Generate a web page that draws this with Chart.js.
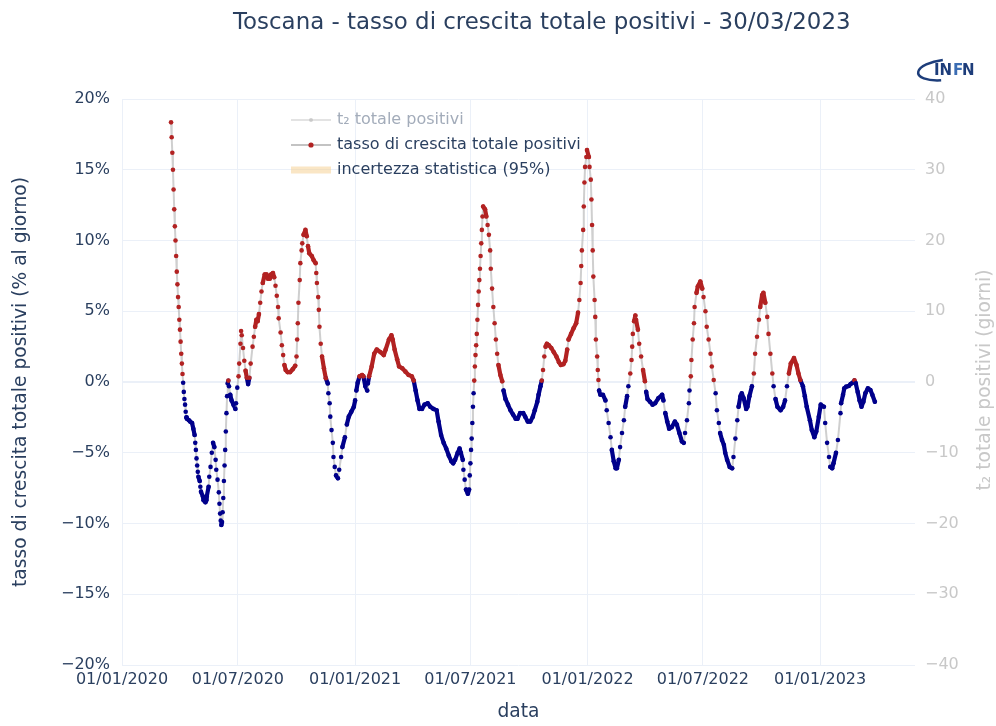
<!DOCTYPE html>
<html lang="it">
<head>
<meta charset="utf-8">
<title>Toscana - tasso di crescita totale positivi</title>
<script src="https://cdn.jsdelivr.net/npm/chart.js@4.4.1/dist/chart.umd.min.js"></script>
<style>
  html, body { margin: 0; padding: 0; background: #fff; }
  #contenitore { width: 996px; height: 726px; position: relative; }
</style>
</head>
<body>
<div id="contenitore"><canvas id="grafico"></canvas></div>
<script>
// giorni trascorsi dal 01/01/2020 e tasso di crescita (% al giorno)
const giorni = [
  77, 78, 79, 80, 81, 82, 83, 84, 85, 86, 87, 88, 89, 90, 91, 92, 93, 94, 95, 96,
  97, 98, 99, 100, 101, 102, 105, 107, 110, 112, 114, 115, 116, 117, 118, 119, 120, 122, 123, 124,
  127, 128, 131, 132, 133, 136, 137, 139, 141, 143, 145, 147, 148, 150, 152, 153, 154, 155, 156, 157,
  158, 159, 160, 161, 162, 163, 164, 165, 166, 167, 168, 170, 172, 175, 178, 179, 181, 183, 184, 186,
  187, 188, 190, 192, 194, 196, 198, 200, 202, 205, 207, 209, 211, 213, 215, 217, 219, 221, 224, 227,
  229, 232, 234, 237, 239, 241, 243, 245, 246, 249, 251, 253, 255, 257, 260, 264, 268,
  272, 274, 275, 276, 277, 279, 280, 282, 283, 285, 288, 290, 292, 294, 298, 301, 304, 305, 306, 308,
  309, 310, 312, 314, 317, 320, 323, 324, 326, 327, 329, 331, 332, 334, 336, 339, 341, 344, 346, 350,
  353, 356, 360, 364, 366, 368, 370, 373, 377, 379, 382, 385, 386, 388, 392, 396, 400, 406, 411, 414,
  419, 423, 425, 428, 432, 435, 440, 445, 450, 455, 458, 461, 464, 467, 471, 475, 480, 484, 489,
  494, 497, 501, 505, 509, 513, 517, 520, 523, 527, 530, 532, 535, 536, 538, 540, 543, 545, 546, 547,
  548, 549, 550, 551, 552, 553, 554, 555, 556, 557, 558, 559, 560, 561, 562, 563, 564, 565, 566, 567,
  570, 572, 574, 576, 578, 579, 581, 583, 585, 587, 589, 591, 594, 597, 599, 602, 606, 610, 614, 618,
  621, 625, 630, 633, 637, 641, 645, 648, 652, 654, 657, 659, 661, 663, 665, 667, 670, 674, 678, 682,
  686, 689, 693,
  696, 699, 701, 705, 709, 713, 716, 718, 720, 721, 722, 724, 725, 726, 727, 729, 730, 733, 734, 736,
  737, 738, 739, 740, 742, 743, 744, 746, 747, 748, 749, 751, 755, 759, 761, 764, 767, 769, 772, 775,
  777, 780, 782, 785, 788, 790, 793, 795, 798, 800, 801, 802, 804, 806, 807, 810, 812, 815, 818, 821,
  823, 825, 829, 833, 837, 842, 848, 850, 853, 856, 859, 863, 868, 871, 875, 879, 882, 884, 887, 890,
  891, 893, 894, 896, 898, 899, 902, 904, 908, 911, 913,
  916, 918, 921, 924, 926, 929, 932, 934, 937, 939, 942, 945, 947, 950, 954, 958, 960, 963, 966, 968,
  971, 973, 976, 980, 982, 985, 989, 992, 994, 997, 1000, 1002, 1005, 1007, 1010, 1013, 1015, 1018, 1021, 1023,
  1026, 1029, 1034, 1038, 1041, 1044, 1047, 1050, 1055, 1059, 1062, 1065, 1069, 1072, 1075, 1080, 1083, 1087, 1090, 1094,
  1097, 1102, 1104, 1107, 1110, 1112, 1115, 1117, 1121, 1124,
  1128, 1129, 1132, 1134, 1137, 1141, 1144, 1147, 1150, 1152, 1155, 1158, 1161, 1164, 1167, 1171, 1175, 1178, 1182
];
const tasso = [
  18.35, 17.3, 16.2, 15.0, 13.6, 12.2, 11.0, 10.0, 8.9, 7.8, 6.9, 6.0, 5.3, 4.4, 3.7, 2.85, 2.0, 1.3, 0.57, -0.05,
  -0.7, -1.2, -1.6, -2.1, -2.5, -2.6, -2.7, -2.8, -2.9, -3.3, -3.75, -4.3, -4.8, -5.4, -5.9, -6.35, -6.7, -7.0, -7.4, -7.75,
  -8.1, -8.35, -8.5, -8.35, -8.1, -7.4, -6.7, -6.0, -5.0, -4.3, -4.6, -5.5, -6.2, -6.9, -7.8, -8.6, -9.3, -9.8, -10.1, -9.9,
  -9.2, -8.2, -7.0, -5.9, -4.8, -3.5, -2.2, -1.0, -0.1, 0.1, -0.3, -0.9, -1.3, -1.6, -1.9, -1.5, -0.4, 0.4, 1.3, 2.7,
  3.6, 3.3, 2.4, 1.5, 0.8, 0.3, -0.15, 0.3, 1.3, 2.5, 3.2, 3.9, 4.4, 4.3, 4.8, 5.6, 6.4, 7.0, 7.6, 7.6,
  7.3, 7.3, 7.6, 7.7, 7.4, 6.8, 6.1, 5.3, 4.5, 3.5, 2.6, 1.9, 1.2, 0.85, 0.7, 0.7, 0.9,
  1.15, 1.8, 3.0, 4.15, 5.6, 7.2, 8.4, 9.3, 9.8, 10.4, 10.75, 10.3, 9.6, 9.1, 8.9, 8.6, 8.4, 7.7, 7.0, 6.0,
  5.1, 3.9, 2.7, 1.8, 0.97, 0.26, -0.1, -0.8, -1.5, -2.45, -3.4, -4.3, -5.3, -6.0, -6.6, -6.8, -6.2, -5.3, -4.6, -3.9,
  -3.0, -2.45, -2.1, -1.75, -1.3, -0.6, -0.05, 0.4, 0.5, 0.4, -0.3, -0.6, -0.1, 0.4, 1.1, 2.0, 2.3, 2.1, 1.9, 2.3,
  3.0, 3.3, 3.0, 2.3, 1.6, 1.1, 0.97, 0.73, 0.5, 0.4, 0.1, -0.6, -1.3, -1.9, -1.9, -1.6, -1.5, -1.75, -1.9,
  -2.0, -2.8, -3.75, -4.3, -4.7, -5.2, -5.6, -5.75, -5.5, -5.0, -4.7, -5.0, -5.5, -6.2, -6.9, -7.6, -7.9, -7.6, -6.6, -5.75,
  -4.8, -4.0, -2.9, -1.75, -0.8, 0.1, 1.1, 1.9, 2.6, 3.4, 4.4, 5.45, 6.4, 7.2, 8.0, 8.9, 9.8, 10.75, 11.7, 12.4,
  12.2, 11.7, 11.1, 10.4, 9.3, 8.0, 6.6, 5.3, 4.15, 3.0, 2.0, 1.2, 0.5, 0.05, -0.6, -1.2, -1.6, -2.0, -2.3, -2.6,
  -2.6, -2.2, -2.2, -2.45, -2.8, -2.8, -2.45, -2.0, -1.4, -0.9, -0.3, 0.1, 0.85, 1.8, 2.5, 2.7, 2.6, 2.4, 2.1, 1.8,
  1.4, 1.2, 1.25,
  1.5, 2.3, 3.0, 3.4, 3.8, 4.15, 4.9, 5.8, 7.0, 8.2, 9.3, 10.75, 12.4, 14.1, 15.2, 15.9, 16.4, 15.9, 15.2, 14.3,
  12.9, 11.1, 9.3, 7.45, 5.8, 4.6, 3.0, 1.8, 0.85, 0.14, -0.6, -0.9, -0.9, -1.3, -2.0, -2.9, -3.9, -4.8, -5.6, -6.1,
  -6.1, -5.5, -4.6, -3.6, -2.7, -1.75, -1.0, -0.3, 0.6, 1.55, 2.5, 3.4, 4.3, 4.7, 4.4, 3.7, 2.7, 1.8, 0.85, 0.05,
  -0.7, -1.2, -1.4, -1.6, -1.5, -1.15, -0.9, -1.3, -2.2, -2.8, -3.3, -3.2, -2.8, -3.0, -3.6, -4.2, -4.3, -3.6, -2.7, -1.5,
  -0.6, 0.4, 1.55, 3.0, 4.15, 5.3, 6.3, 6.75, 7.1, 6.6, 6.0,
  5.0, 3.9, 3.0, 2.0, 1.1, 0.14, -0.8, -2.0, -2.9, -3.6, -4.1, -4.45, -5.0, -5.5, -6.0, -6.1, -5.3, -4.0, -2.7, -1.75,
  -1.0, -0.8, -1.15, -1.9, -1.75, -1.0, -0.3, 0.6, 2.0, 3.2, 4.4, 5.3, 6.15, 6.3, 5.6, 4.6, 3.4, 2.0, 0.6, -0.3,
  -1.2, -1.75, -2.0, -1.75, -1.3, -0.3, 0.6, 1.3, 1.7, 1.2, 0.6, 0.14, -0.3, -1.0, -1.75, -2.7, -3.4, -3.9, -3.5, -2.45,
  -1.6, -1.75, -2.9, -4.3, -5.3, -6.0, -6.1, -5.75, -5.0, -4.1,
  -2.2, -1.5, -0.9, -0.45, -0.33, -0.28, -0.14, -0.05, 0.12, -0.1, -0.7, -1.3, -1.75, -1.4, -0.8, -0.45, -0.57, -0.9, -1.4
];
// etichette dell'asse x (giorni dal 01/01/2020) e limiti degli assi
const tickGiorni = [0, 182, 366, 547, 731, 912, 1096];
const limiteTasso = [-20, 20];
const limiteT2 = [-40, 40];

const titolo = 'Toscana - tasso di crescita totale positivi - 30/03/2023';
const font = 'DejaVu Sans';
const coloreTesto = '#2a3f5f';
const coloreGriglia = '#ebf0f8';
const coloreGrigio = '#c8c8c8';
const coloreLinea = 'rgba(175,175,175,0.6)';
const rosso = '#b22222';
const blu = '#00008b';

function dataDaGiorno(g) {
  const d = new Date(Date.UTC(2020, 0, 1) + g * 86400000);
  const gg = String(d.getUTCDate()).padStart(2, '0');
  const mm = String(d.getUTCMonth() + 1).padStart(2, '0');
  return gg + '/' + mm + '/' + d.getUTCFullYear();
}

function conSegno(v) {
  return (v < 0 ? '\u2212' : '') + Math.abs(v);
}

// un tratto e' "ripido" se i punti giornalieri resterebbero separati
function ripido(s) {
  const giorniTratto = Math.max(1, giorni[s.p1DataIndex] - giorni[s.p0DataIndex]);
  return Math.abs(s.p1.y - s.p0.y) / giorniTratto > 4.2;
}

function coloreTratto(s) {
  if (ripido(s)) return coloreLinea;
  return tasso[s.p1DataIndex] >= 0 && tasso[s.p0DataIndex] >= 0 ? rosso : blu;
}

const punti = giorni.map((g, i) => ({ x: g, y: tasso[i] }));

// titolo, titoli degli assi, legenda e logo disegnati a mano
const decorazioni = {
  id: 'decorazioni',
  afterDraw(chart) {
    const c = chart.ctx;
    c.save();
    c.textBaseline = 'middle';

    c.fillStyle = coloreTesto;
    c.font = '22.9px "' + font + '"';
    c.textAlign = 'left';
    c.fillText(titolo, 233, 23);

    c.font = '18.67px "' + font + '"';
    c.textAlign = 'center';
    c.fillText('data', (chart.chartArea.left + chart.chartArea.right) / 2, 712);

    c.save();
    c.translate(21, 382);
    c.rotate(-Math.PI / 2);
    c.fillText('tasso di crescita totale positivi (% al giorno)', 0, 0);
    c.restore();

    c.save();
    c.translate(985, 380);
    c.rotate(-Math.PI / 2);
    c.fillStyle = coloreGrigio;
    c.fillText('t\u2082 totale positivi (giorni)', 0, 0);
    c.restore();

    // legenda
    c.font = '16px "' + font + '"';
    c.textAlign = 'left';
    c.lineCap = 'butt';

    c.strokeStyle = 'rgba(200,200,200,0.5)';
    c.lineWidth = 2;
    c.beginPath(); c.moveTo(291, 120); c.lineTo(331, 120); c.stroke();
    c.fillStyle = 'rgba(190,190,190,0.7)';
    c.beginPath(); c.arc(311, 120, 2, 0, 2 * Math.PI); c.fill();
    c.fillStyle = '#a3acba';
    c.fillText('t\u2082 totale positivi', 337, 120);

    c.strokeStyle = 'rgba(170,170,170,0.7)';
    c.beginPath(); c.moveTo(291, 145); c.lineTo(331, 145); c.stroke();
    c.fillStyle = rosso;
    c.beginPath(); c.arc(311, 145, 2.6, 0, 2 * Math.PI); c.fill();
    c.fillStyle = coloreTesto;
    c.fillText('tasso di crescita totale positivi', 337, 145);

    c.strokeStyle = 'rgba(245,205,140,0.5)';
    c.lineWidth = 7;
    c.beginPath(); c.moveTo(291, 170); c.lineTo(331, 170); c.stroke();
    c.fillText('incertezza statistica (95%)', 337, 170);

    // logo INFN
    c.strokeStyle = '#1d3d7a';
    c.lineWidth = 2.5;
    c.beginPath();
    c.ellipse(944, 70, 26, 10, -0.12, 0.55 * Math.PI, 1.5 * Math.PI);
    c.stroke();
    c.font = 'bold 15px "' + font + '"';
    c.fillStyle = '#1d3d7a';
    c.fillText('IN', 934, 71);
    c.fillStyle = '#3b6db3';
    c.fillText('F', 953, 71);
    c.fillStyle = '#1d3d7a';
    c.fillText('N', 962, 71);
    c.restore();
  }
};

new Chart(document.getElementById('grafico'), {
  type: 'line',
  data: {
    datasets: [{
      label: 'tasso di crescita totale positivi',
      data: punti,
      yAxisID: 'y',
      borderColor: coloreLinea,
      borderWidth: 2,
      borderJoinStyle: 'round',
      borderCapStyle: 'round',
      segment: {
        borderColor: coloreTratto,
        borderWidth: s => (ripido(s) ? 2 : 4.2)
      },
      pointRadius: 2.3,
      pointBorderWidth: 0,
      pointBackgroundColor: ctx => (ctx.raw && ctx.raw.y >= 0 ? rosso : blu),
      tension: 0
    }]
  },
  options: {
    responsive: true,
    maintainAspectRatio: false,
    animation: false,
    layout: { padding: { top: 99, left: 0, right: 0, bottom: 0 } },
    plugins: { legend: { display: false }, tooltip: { enabled: false } },
    scales: {
      x: {
        type: 'linear',
        min: 0,
        max: 1245,
        afterFit: s => { s.height = 61; },
        afterBuildTicks: s => { s.ticks = tickGiorni.map(v => ({ value: v })); },
        ticks: {
          callback: v => dataDaGiorno(v),
          color: coloreTesto,
          font: { family: font, size: 16 },
          padding: 5,
          maxRotation: 0,
          autoSkip: false
        },
        grid: { color: coloreGriglia, drawTicks: false },
        border: { display: false }
      },
      y: {
        position: 'left',
        min: limiteTasso[0],
        max: limiteTasso[1],
        afterFit: s => { s.width = 122; },
        ticks: {
          stepSize: 5,
          callback: v => conSegno(v) + '%',
          color: coloreTesto,
          font: { family: font, size: 16 },
          padding: 12
        },
        grid: {
          color: coloreGriglia,
          lineWidth: ctx => (ctx.tick && ctx.tick.value === 0 ? 2 : 1),
          drawTicks: false
        },
        border: { display: false }
      },
      y2: {
        position: 'right',
        min: limiteT2[0],
        max: limiteT2[1],
        afterFit: s => { s.width = 81; },
        ticks: {
          stepSize: 10,
          callback: v => conSegno(v),
          color: coloreGrigio,
          font: { family: font, size: 16 },
          padding: 10
        },
        grid: { display: false, drawTicks: false },
        border: { display: false }
      }
    }
  },
  plugins: [decorazioni]
});
</script>
</body>
</html>
